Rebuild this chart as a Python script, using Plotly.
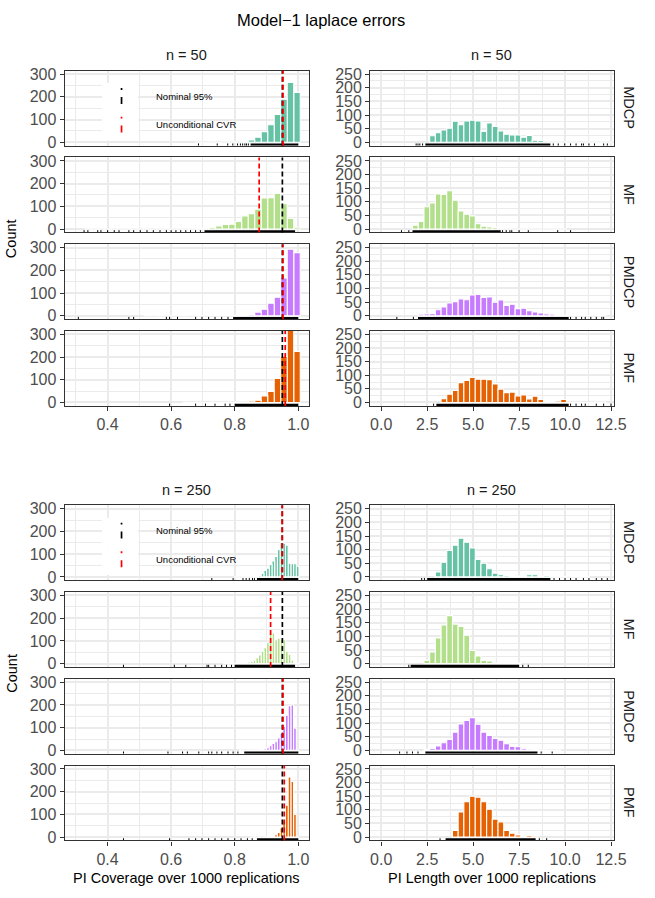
import plotly.graph_objects as go

W, H = 655, 898
FONT = "Liberation Sans, Arial, sans-serif"

METHODS = ["MDCP", "MF", "PMDCP", "PMF"]
COLORS = ["#66c2a5", "#b2df8a", "#c77cff", "#e66101"]
SAMPLE_SIZES = [50, 250]

NOMINAL = 0.95
UNCOND_CVR_50 = [0.952, 0.877, 0.952, 0.959]
UNCOND_CVR_250 = [0.949, 0.913, 0.952, 0.956]

# ---- PI coverage histograms: counts listed from the right-most bin leftwards
COV50_LAST_CENTER, COV50_BINW = 0.996, 0.0205
COV250_LAST_CENTER, COV250_BINW = 0.998, 0.0085

COV50_MDCP = [220, 264, 190, 123, 77, 47, 22, 10, 3, 2, 1, 1, 0, 1, 0, 1]
COV50_MF = [8, 47, 112, 157, 138, 137, 87, 68, 58, 33, 21, 20, 14, 7, 3, 2, 1, 1, 1, 0, 1, 1, 0, 1, 1, 0, 1, 0, 1, 1, 1, 1, 1]
COV50_PMDCP = [278, 293, 166, 82, 55, 29, 16, 6, 3, 2, 2, 1, 1, 1, 0, 1, 0, 1, 1, 0, 0, 1, 0, 1]
COV50_PMF = [225, 330, 204, 106, 49, 29, 10, 6, 3, 2, 1, 1, 0, 1, 0, 1, 0, 1]

COV250_MDCP = [47, 58, 58, 60, 140, 148, 152, 120, 90, 70, 55, 38, 28, 15, 7, 4, 2, 1, 1, 0, 1, 1, 0, 1]
COV250_MF = [2, 5, 15, 40, 55, 105, 108, 112, 105, 135, 138, 92, 70, 55, 38, 25, 15, 10, 7, 4, 2, 1, 1, 0, 1, 1, 0, 1]
COV250_PMDCP = [0, 98, 200, 197, 155, 105, 75, 55, 38, 30, 20, 12, 7, 4, 2, 1, 1, 0, 1, 1, 0, 1]
COV250_PMF = [0, 100, 245, 265, 140, 75, 40, 20, 10, 5, 3, 2, 1, 1, 0, 1, 0, 1]

# ---- PI length histograms: bin k is centred at k * LEN_BINW; counts start at bin START
LEN_BINW = 0.31
LEN50_MDCP_START, LEN50_MDCP = 9, [24, 35, 45, 52, 77, 65, 78, 81, 78, 40, 71, 58, 42, 30, 27, 27, 19, 25, 8, 7, 2, 1, 1, 2, 1, 1, 0, 1, 1, 1, 1, 0, 1, 0, 1]
LEN50_MF_START, LEN50_MF = 6, [14, 28, 82, 96, 129, 127, 141, 106, 66, 54, 48, 20, 10, 8, 6, 2, 1, 1, 0, 1, 1, 0, 0, 0, 1, 0, 1]
LEN50_PMDCP_START, LEN50_PMDCP = 7, [6, 7, 8, 22, 32, 47, 52, 62, 59, 76, 78, 67, 69, 50, 58, 38, 42, 26, 28, 19, 14, 10, 7, 6, 4, 2, 1, 1, 1, 1, 0, 1, 1]
LEN50_PMF_START, LEN50_PMF = 11, [14, 30, 44, 73, 81, 92, 85, 85, 84, 68, 49, 36, 38, 24, 28, 13, 23, 11, 4, 4, 5, 11, 1, 1, 1, 0, 1, 1, 1]

LEN250_MDCP_START, LEN250_MDCP = 10, [18, 54, 97, 116, 142, 127, 106, 64, 50, 30, 14, 8, 5, 3, 4, 2, 8, 8, 3, 5, 1, 1, 1, 0, 1, 1, 1]
LEN250_MF_START, LEN250_MF = 8, [12, 43, 94, 142, 176, 145, 136, 104, 48, 28, 12, 10, 3, 4, 2, 2, 2]
LEN250_PMDCP_START, LEN250_PMDCP = 8, [4, 7, 16, 28, 40, 67, 97, 110, 120, 96, 67, 55, 44, 37, 24, 14, 13, 6, 2, 4, 1, 1, 0, 1]
LEN250_PMF_START, LEN250_PMF = 13, [24, 92, 130, 150, 146, 130, 102, 66, 56, 24, 14, 8, 2, 6, 1]

# ---- rugs: dense stretch [lo, hi] plus isolated observations
RUG_COV50_DENSE = [(0.85, 1.0), (0.705, 0.99), (0.795, 1.0), (0.80, 1.0)]
RUG_COV50_SPARSE = [
    [0.686, 0.745, 0.778, 0.794, 0.809, 0.818, 0.825, 0.832, 0.837, 0.843],
    [0.326, 0.338, 0.369, 0.379, 0.40, 0.421, 0.436, 0.467, 0.482, 0.503, 0.524, 0.544, 0.565, 0.585, 0.600, 0.615, 0.630, 0.646, 0.661, 0.677, 0.692],
    [0.308, 0.467, 0.482, 0.585, 0.595, 0.62, 0.677, 0.697, 0.718, 0.738, 0.759, 0.779],
    [0.595, 0.677, 0.708, 0.738, 0.77, 0.785],
]
RUG_COV250_DENSE = [(0.87, 1.0), (0.80, 0.99), (0.83, 1.0), (0.87, 1.0)]
RUG_COV250_SPARSE = [
    [0.728, 0.795, 0.826, 0.836, 0.846, 0.856, 0.862],
    [0.45, 0.61, 0.646, 0.713, 0.718, 0.738, 0.759, 0.774, 0.79],
    [0.45, 0.59, 0.636, 0.651, 0.687, 0.718, 0.728, 0.744, 0.759, 0.779, 0.795, 0.81],
    [0.45, 0.595, 0.656, 0.677, 0.697, 0.718, 0.738, 0.759, 0.779, 0.80, 0.82, 0.84, 0.855],
]
RUG_LEN50_DENSE = [(2.4, 9.2), (1.7, 6.5), (2.0, 10.2), (3.0, 10.2)]
RUG_LEN50_SPARSE = [
    [1.9, 2.0, 2.1, 2.25, 9.36, 9.63, 9.98, 10.3, 10.6, 10.9, 11.0, 11.3, 11.6, 12.1, 12.3],
    [1.1, 1.5, 6.6, 6.8, 7.0, 7.1, 7.5, 8.0, 9.6, 10.3],
    [0.85, 1.75, 10.3, 10.6, 10.9, 11.1, 11.4, 11.7, 12.0, 12.1],
    [2.85, 10.3, 10.6, 10.9, 11.1, 11.7, 12.1, 12.5],
]
RUG_LEN250_DENSE = [(2.5, 9.2), (1.6, 7.5), (2.4, 8.5), (3.5, 8.4)]
RUG_LEN250_SPARSE = [
    [2.2, 2.35, 9.4, 9.7, 10.0, 10.3, 10.6, 11.0, 11.3, 11.7, 12.0, 12.3],
    [1.5, 7.7, 8.0],
    [1.0, 1.4, 1.7, 2.0, 8.7, 9.3],
    [3.2, 8.6, 9.0],
]

COV_TITLE = "PI Coverage over 1000 replications"
LEN_TITLE = "PI Length over 1000 replications"
MAIN_TITLE = "Model\u22121 laplace errors"
LEGEND_LABELS = ["Nominal 95%", "Unconditional CVR"]

# ------------------------------------------------------------------ layout geometry
TOP0, PANEL_H, GAP, BLOCK = 66.5, 75.8, 11.9, 439.5
COLX = [(66.0, 315.0), (377.7, 626.0)]
XR = [[0.265, 1.033], [-0.6, 12.64]]
YR = [[-15, 315], [-12.5, 262.5]]
XT = [dict(dtick=0.2, tick0=0, minor=0.1), dict(dtick=2.5, tick0=0, minor=1.25)]
YT = [dict(dtick=100, minor=50), dict(dtick=50, minor=25)]

cov_data = {
    50: [COV50_MDCP, COV50_MF, COV50_PMDCP, COV50_PMF],
    250: [COV250_MDCP, COV250_MF, COV250_PMDCP, COV250_PMF],
}
cov_bins = {50: (COV50_LAST_CENTER, COV50_BINW), 250: (COV250_LAST_CENTER, COV250_BINW)}
len_data = {
    50: [(LEN50_MDCP_START, LEN50_MDCP), (LEN50_MF_START, LEN50_MF),
         (LEN50_PMDCP_START, LEN50_PMDCP), (LEN50_PMF_START, LEN50_PMF)],
    250: [(LEN250_MDCP_START, LEN250_MDCP), (LEN250_MF_START, LEN250_MF),
          (LEN250_PMDCP_START, LEN250_PMDCP), (LEN250_PMF_START, LEN250_PMF)],
}
rug_data = {
    (50, 0): (RUG_COV50_DENSE, RUG_COV50_SPARSE),
    (250, 0): (RUG_COV250_DENSE, RUG_COV250_SPARSE),
    (50, 1): (RUG_LEN50_DENSE, RUG_LEN50_SPARSE),
    (250, 1): (RUG_LEN250_DENSE, RUG_LEN250_SPARSE),
}
cvr = {50: UNCOND_CVR_50, 250: UNCOND_CVR_250}

fig = go.Figure()
layout = {}
shapes = []
annotations = []


def pyf(py):
    return 1 - py / H


for b, n in enumerate(SAMPLE_SIZES):
    for c in range(2):
        for r, m in enumerate(METHODS):
            i = b * 8 + c * 4 + r + 1
            sfx = "" if i == 1 else str(i)
            xref, yref = "x" + sfx, "y" + sfx
            top = TOP0 + b * BLOCK + r * (PANEL_H + GAP)
            bot = top + PANEL_H
            bottom_row = r == 3
            layout["xaxis" + sfx] = dict(
                domain=[COLX[c][0] / W, COLX[c][1] / W], range=XR[c], anchor=yref,
                tickmode="linear", tick0=XT[c]["tick0"], dtick=XT[c]["dtick"], tickformat=".1f",
                showgrid=True, gridcolor="#ebebeb", gridwidth=1.8, zeroline=False,
                minor=dict(dtick=XT[c]["minor"], tick0=0, showgrid=True, gridcolor="#ebebeb", gridwidth=0.9),
                showline=True, mirror=True, linecolor="#333333", linewidth=1.3,
                ticks="outside" if bottom_row else "", ticklen=4, tickwidth=1, tickcolor="#333333",
                showticklabels=bottom_row,
                tickfont=dict(family=FONT, size=16, color="#4d4d4d"),
                fixedrange=True,
            )
            layout["yaxis" + sfx] = dict(
                domain=[pyf(bot), pyf(top)], range=YR[c], anchor=xref,
                tickmode="linear", tick0=0, dtick=YT[c]["dtick"],
                showgrid=True, gridcolor="#ebebeb", gridwidth=1.8, zeroline=False,
                minor=dict(dtick=YT[c]["minor"], tick0=0, showgrid=True, gridcolor="#ebebeb", gridwidth=0.9),
                showline=True, mirror=True, linecolor="#333333", linewidth=1.3,
                ticks="outside", ticklen=4, tickwidth=1, tickcolor="#333333",
                tickfont=dict(family=FONT, size=16, color="#4d4d4d"),
                fixedrange=True,
            )

            # histogram bars
            if c == 0:
                last, w = cov_bins[n]
                counts = cov_data[n][r]
                xs = [last - w * k for k in range(len(counts))]
            else:
                w = LEN_BINW
                start, counts = len_data[n][r]
                xs = [w * (start + k) for k in range(len(counts))]
            fig.add_trace(go.Bar(
                x=xs, y=counts, width=w, xaxis=xref, yaxis=yref, showlegend=False,
                marker=dict(color=COLORS[r], line=dict(color="white", width=1.1)),
                hoverinfo="skip",
            ))

            # rug
            dense, sparse = rug_data[(n, c)]
            y0 = YR[c][0]
            y1 = YR[c][0] + 0.03 * (YR[c][1] - YR[c][0])
            lo, hi = dense[r]
            fig.add_trace(go.Scatter(
                x=[lo, hi, hi, lo, lo], y=[y0, y0, y1, y1, y0], mode="lines",
                fill="toself", fillcolor="black", line=dict(width=0, color="black"),
                xaxis=xref, yaxis=yref, showlegend=False, hoverinfo="skip",
            ))
            rx, ry = [], []
            for v in sparse[r]:
                rx += [v, v, None]
                ry += [y0, y1, None]
            fig.add_trace(go.Scatter(
                x=rx, y=ry, mode="lines", line=dict(width=1, color="black"),
                xaxis=xref, yaxis=yref, showlegend=False, hoverinfo="skip",
            ))

            # reference lines (coverage column only)
            if c == 0:
                for v, col in [(NOMINAL, "black"), (cvr[n][r], "red")]:
                    shapes.append(dict(
                        type="line", xref=xref, yref=yref + " domain", x0=v, x1=v, y0=0, y1=1,
                        line=dict(color=col, width=1.7, dash="5px,3px"), layer="above",
                    ))

            # strip labels on the right
            if c == 1:
                annotations.append(dict(
                    text=m, x=641.7 / W, y=pyf((top + bot) / 2), xref="paper", yref="paper",
                    showarrow=False, textangle=90, xanchor="center", yanchor="middle",
                    font=dict(family=FONT, size=14.5, color="#1a1a1a"),
                ))

    # facet titles
    for c in range(2):
        annotations.append(dict(
            text=f"n = {n}", x=(COLX[c][0] + COLX[c][1]) / 2 / W, y=pyf(51 + b * BLOCK),
            xref="paper", yref="paper", showarrow=False, xanchor="center", yanchor="middle",
            font=dict(family=FONT, size=14.5, color="#1a1a1a"),
        ))
    # Count
    annotations.append(dict(
        text="Count", x=12 / W, y=pyf(236 + b * BLOCK), xref="paper", yref="paper",
        showarrow=False, textangle=-90, xanchor="center", yanchor="middle",
        font=dict(family=FONT, size=14.5, color="black"),
    ))
    # legend (drawn inside the top coverage panel)
    for j, (lab, col) in enumerate(zip(LEGEND_LABELS, ["black", "red"])):
        ktop = 79 + b * BLOCK + j * 29
        shapes.append(dict(
            type="rect", xref="paper", yref="paper", x0=104 / W, x1=141 / W,
            y0=pyf(ktop + 29), y1=pyf(ktop), fillcolor="white", line=dict(width=0), layer="above",
        ))
        shapes.append(dict(
            type="line", xref="paper", yref="paper", x0=124 / W, x1=124 / W,
            y0=pyf(ktop + 21), y1=pyf(ktop + 5), line=dict(color=col, width=1.7, dash="7px,7px"),
            layer="above",
        ))
        annotations.append(dict(
            text=lab, x=157 / W, y=pyf(92.3 + b * BLOCK + j * 28.7), xref="paper", yref="paper",
            showarrow=False, xanchor="left", yanchor="middle",
            font=dict(family=FONT, size=9.5, color="black"),
        ))

# x-axis titles
annotations.append(dict(text=COV_TITLE, x=(COLX[0][0] + COLX[0][1]) / 2 / W, y=pyf(883),
                        xref="paper", yref="paper", showarrow=False, xanchor="center", yanchor="middle",
                        font=dict(family=FONT, size=14.5, color="black")))
annotations.append(dict(text=LEN_TITLE, x=(COLX[1][0] + COLX[1][1]) / 2 / W, y=pyf(883),
                        xref="paper", yref="paper", showarrow=False, xanchor="center", yanchor="middle",
                        font=dict(family=FONT, size=14.5, color="black")))
# main title
annotations.append(dict(text=MAIN_TITLE, x=327 / W, y=pyf(15), xref="paper", yref="paper",
                        showarrow=False, xanchor="center", yanchor="middle",
                        font=dict(family=FONT, size=16.5, color="black")))

fig.update_layout(
    width=W, height=H, autosize=False,
    margin=dict(l=0, r=0, t=0, b=0),
    paper_bgcolor="white", plot_bgcolor="white",
    barmode="overlay", showlegend=False,
    shapes=shapes, annotations=annotations,
    **layout,
)

fig.write_html("out.html")
